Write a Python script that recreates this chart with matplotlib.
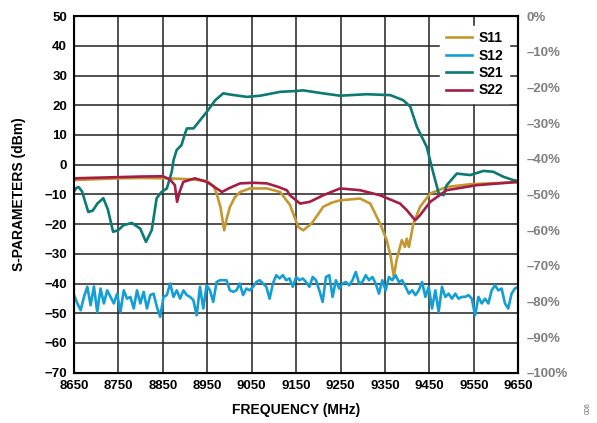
import matplotlib.pyplot as plt
import numpy as np

plt.rcParams['font.family'] = ['Liberation Sans', 'DejaVu Sans']
plt.rcParams['font.weight'] = 'bold'

# S11 (input return loss)
s11_freq = [8650, 8700, 8750, 8800, 8860, 8910, 8949, 8964, 8971, 8980, 8988, 8994,
            9001, 9012, 9024, 9046, 9084, 9114, 9136, 9155, 9166, 9185, 9211, 9230,
            9249, 9294, 9317, 9339, 9354, 9363, 9370, 9376, 9388, 9395, 9399, 9404,
            9414, 9429, 9452, 9489, 9542, 9600, 9650]
s11_db = [-5.2, -4.9, -4.6, -4.5, -4.6, -4.9, -5.5, -7.2, -9.7, -14.5, -22.1, -18.0,
          -14.2, -11.0, -9.2, -8.0, -8.0, -9.2, -13.5, -21.0, -22.1, -19.8, -14.2, -12.8,
          -12.0, -11.4, -13.1, -19.8, -25.4, -31.0, -37.8, -32.2, -25.4, -27.7, -24.9, -27.7,
          -19.8, -14.2, -9.7, -7.5, -6.6, -6.2, -5.9]

# S12 (reverse isolation), sampled uniformly across the span
s12_db = [-43.9, -46.7, -49.0, -44.5, -41.1, -47.3, -41.0, -49.6, -41.7, -46.7,
          -42.3, -44.5, -46.7, -43.4, -49.6, -42.3, -45.1, -44.5, -48.4, -42.3,
          -46.7, -42.8, -48.4, -43.9, -43.4, -47.9, -51.2, -44.5, -43.9, -40.0,
          -44.5, -42.3, -45.1, -42.3, -43.9, -44.5, -45.6, -50.7, -41.1, -48.4,
          -40.6, -42.3, -46.2, -39.5, -38.9, -38.9, -38.9, -42.3, -42.8, -42.3,
          -40.0, -43.9, -41.7, -42.3, -41.1, -39.5, -38.9, -40.0, -41.1, -45.1,
          -40.0, -37.2, -38.3, -37.2, -38.9,
          -38.3, -41.1, -37.8, -38.9, -38.3, -39.5, -41.1, -37.8, -38.9, -42.3,
          -46.2, -37.8, -37.2, -44.5, -38.9, -41.7, -40.0, -39.5, -40.6, -38.9,
          -36.1, -40.0, -39.5, -37.2, -38.9, -37.8, -40.0, -43.4, -38.9, -42.3,
          -37.8, -38.9, -37.2, -39.5, -38.9, -41.1, -43.4, -42.3, -43.9, -42.3,
          -39.5, -44.5, -41.1, -48.4, -42.3, -49.6, -41.1, -44.5, -43.4, -45.1,
          -43.4, -45.1, -44.5, -44.5, -43.9, -45.1, -50.7, -44.5, -46.7, -45.1,
          -46.7, -42.3, -40.6, -42.3, -41.7, -46.7, -48.4, -43.4, -41.7, -41.1]
s12_freq = np.linspace(8650, 9650, len(s12_db))

# S21 (gain)
s21_freq = [8650, 8655, 8660, 8668, 8682, 8692, 8703, 8716, 8726, 8738, 8750, 8761,
            8780, 8799, 8812, 8825, 8836, 8847, 8859, 8870, 8874, 8881, 8892, 8900,
            8904, 8919, 8934, 8949, 8968, 8986, 9001, 9039, 9069, 9114, 9151, 9166,
            9210, 9249, 9309, 9362, 9391, 9407, 9422, 9444, 9459, 9471, 9482, 9489,
            9512, 9542, 9572, 9594, 9617, 9639, 9650]
s21_db = [-9.0, -7.9, -7.5, -9.0, -15.9, -15.5, -13.0, -11.3, -15.0, -22.6, -22.0, -20.4,
          -19.6, -21.5, -26.0, -22.0, -11.3, -9.2, -8.0, -2.4, 1.5, 4.9, 6.6, 10.5,
          12.2, 12.2, 15.0, 17.8, 21.7, 24.0, 23.6, 22.8, 23.2, 24.5, 24.8, 25.0,
          24.0, 23.2, 23.7, 23.4, 21.7, 19.5, 12.7, 6.0, -2.9, -9.6, -10.3, -6.9,
          -3.0, -3.5, -2.1, -2.4, -4.1, -5.2, -5.5]

# S22 (output return loss)
s22_freq = [8650, 8700, 8750, 8800, 8850, 8866, 8877, 8882, 8888, 8896, 8922, 8949,
            8983, 8998, 9024, 9054, 9084, 9110, 9129, 9136, 9159, 9181, 9211, 9249,
            9294, 9339, 9384, 9399, 9418, 9429, 9452, 9489, 9557, 9650]
s22_db = [-4.6, -4.4, -4.2, -4.0, -3.9, -5.0, -6.9, -12.5, -9.0, -5.8, -4.6, -5.8,
          -9.2, -8.0, -6.3, -6.1, -6.3, -7.5, -8.6, -10.3, -13.1, -12.5, -10.3, -8.0,
          -8.6, -10.3, -13.1, -15.3, -18.7, -17.0, -12.5, -8.6, -6.9, -5.8]

freq_ticks = np.arange(8650, 9651, 100)
left_ticks = np.arange(-70, 51, 10)
right_ticks = np.arange(-100, 1, 10)
right_labels = ['0%' if v == 0 else '\u2013%d%%' % -v for v in right_ticks]


def main():
    fig = plt.figure(figsize=(5.97, 4.23), dpi=100)
    ax = fig.add_axes([0.124, 0.119, 0.744, 0.843])

    lw = 1.9
    ax.plot(s11_freq, s11_db, color='#C4982F', lw=lw, label='S11')
    ax.plot(s12_freq, s12_db, color='#139FD6', lw=lw, label='S12')
    ax.plot(s21_freq, s21_db, color='#0A7A72', lw=lw, label='S21')
    ax.plot(s22_freq, s22_db, color='#A51D45', lw=lw, label='S22')

    ax.set_xlim(8650, 9650)
    ax.set_ylim(-70, 50)
    ax.set_xticks(freq_ticks)
    ax.set_yticks(left_ticks)
    ax.set_axisbelow(True)
    ax.grid(True, color='#222222', lw=1.1)
    ax.tick_params(length=0, labelsize=9.5, pad=5)
    for s in ax.spines.values():
        s.set_linewidth(1.5)
        s.set_color('black')
    ax.set_xlabel('FREQUENCY (MHz)', fontsize=10, fontweight='bold', labelpad=8)
    ax.set_ylabel('S-PARAMETERS (dBm)', fontsize=10, fontweight='bold', labelpad=13)

    ax2 = ax.twinx()
    ax2.set_ylim(-100, 0)
    ax2.set_yticks(right_ticks, right_labels)
    ax2.tick_params(length=0, labelsize=9.5, labelcolor='#7F7F7F', pad=6)
    ax2.spines['right'].set_linewidth(1.5)

    leg = ax.legend(loc='upper right', bbox_to_anchor=(0.995, 0.993), fontsize=10,
                    frameon=True, fancybox=False, framealpha=1, edgecolor='white',
                    handlelength=1.9, handletextpad=0.5, labelspacing=0.25,
                    borderpad=0.4)
    for t in leg.get_texts():
        t.set_fontweight('bold')

    fig.text(0.985, 0.035, '006', rotation=90, fontsize=5, color='#666666',
             fontweight='normal', ha='center', va='center')

    fig.savefig('out.png', dpi=100)


if __name__ == "__main__":
    main()
